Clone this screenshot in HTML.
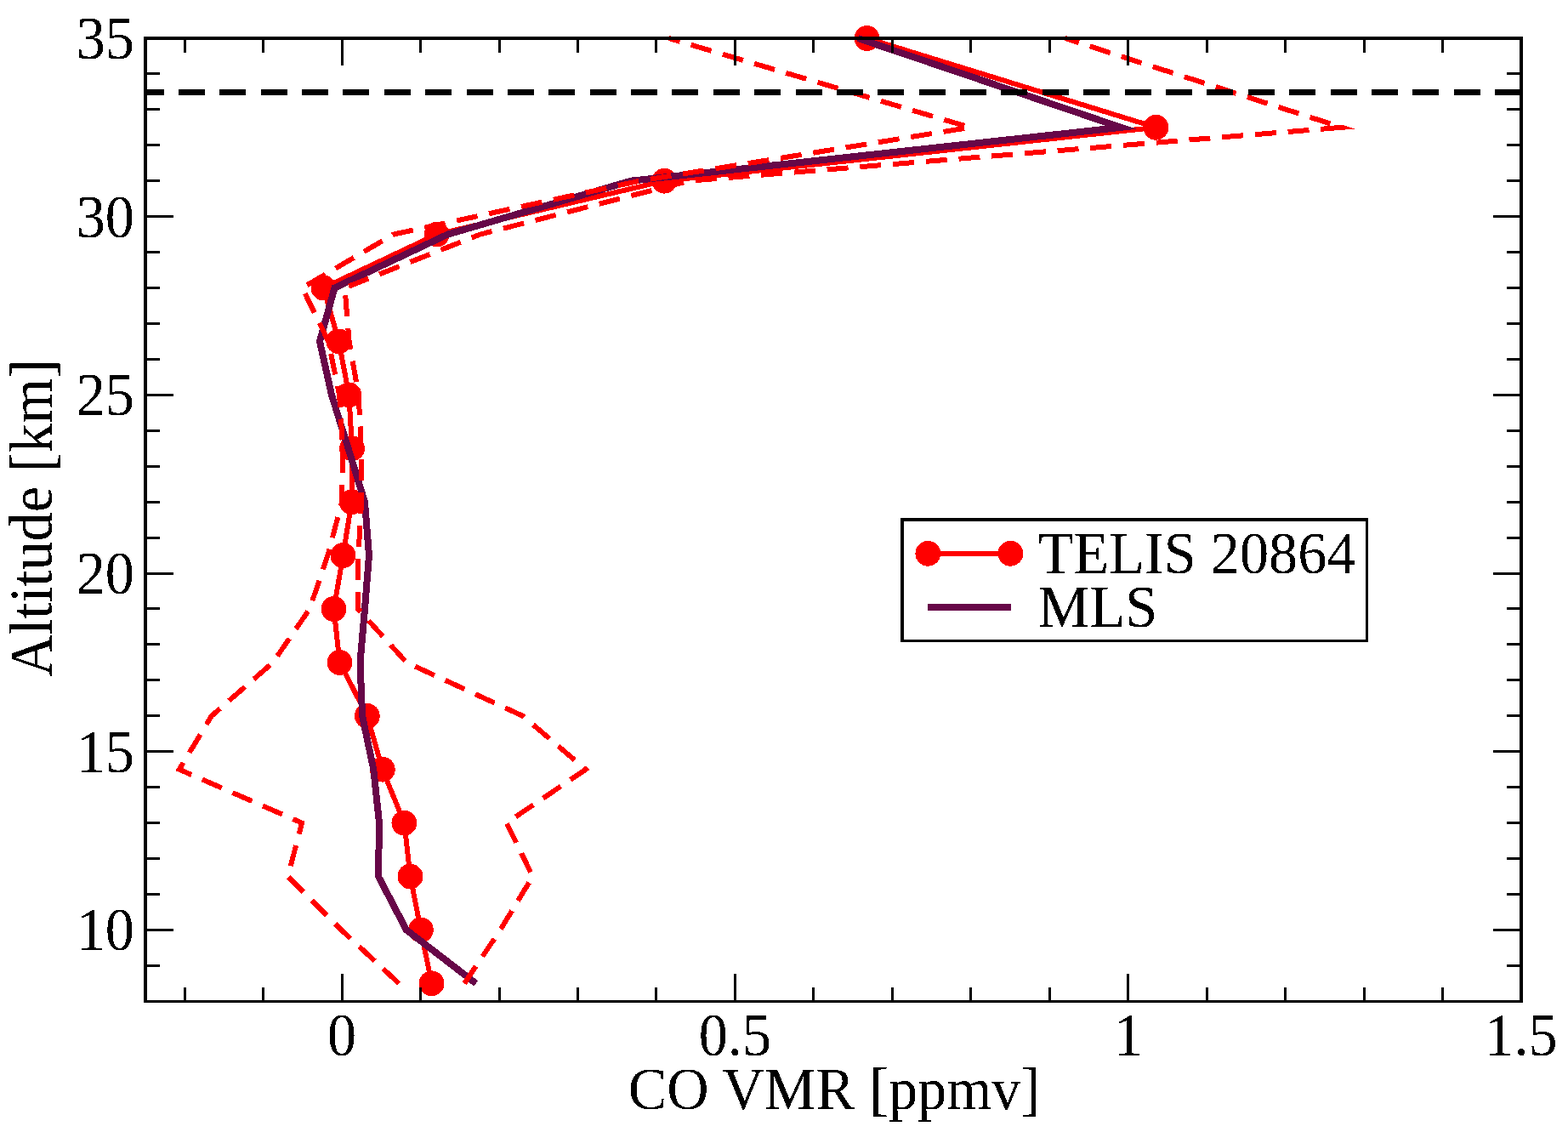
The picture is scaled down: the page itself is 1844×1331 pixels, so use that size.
<!DOCTYPE html>
<html><head><meta charset="utf-8"><style>
html,body{margin:0;padding:0;background:#fff;}
svg{display:block;}
text{font-family:"Liberation Serif","Times New Roman",serif;font-size:68.3px;fill:#000;}
</style></head><body>
<svg width="1844" height="1331" viewBox="0 0 1844 1331" shape-rendering="crispEdges">
<defs><filter id="bin" x="0" y="0" width="1844" height="1331" filterUnits="userSpaceOnUse" color-interpolation-filters="sRGB"><feComponentTransfer><feFuncA type="discrete" tableValues="0 1"/></feComponentTransfer></filter></defs>
<rect width="1844" height="1331" fill="#fff"/>
<g fill="none" stroke-linejoin="miter" stroke-miterlimit="10">
<polyline points="1019.5,45.0 1359.4,149.8 781.3,212.7 513.7,275.6 380.5,338.5 398.4,401.4 410.4,464.4 414.0,527.3 413.6,590.2 403.4,653.1 392.6,716.0 399.5,778.9 431.8,841.8 449.8,904.7 475.4,967.6 482.5,1030.5 494.9,1093.4 507.6,1156.3" stroke="#ff0000" stroke-width="6"/>
<g fill="#ff0000"><circle cx="1019.5" cy="45.0" r="14.9"/>
<circle cx="1359.4" cy="149.8" r="14.9"/>
<circle cx="781.3" cy="212.7" r="14.9"/>
<circle cx="513.7" cy="275.6" r="14.9"/>
<circle cx="380.5" cy="338.5" r="14.9"/>
<circle cx="398.4" cy="401.4" r="14.9"/>
<circle cx="410.4" cy="464.4" r="14.9"/>
<circle cx="414.0" cy="527.3" r="14.9"/>
<circle cx="413.6" cy="590.2" r="14.9"/>
<circle cx="403.4" cy="653.1" r="14.9"/>
<circle cx="392.6" cy="716.0" r="14.9"/>
<circle cx="399.5" cy="778.9" r="14.9"/>
<circle cx="431.8" cy="841.8" r="14.9"/>
<circle cx="449.8" cy="904.7" r="14.9"/>
<circle cx="475.4" cy="967.6" r="14.9"/>
<circle cx="482.5" cy="1030.5" r="14.9"/>
<circle cx="494.9" cy="1093.4" r="14.9"/>
<circle cx="507.6" cy="1156.3" r="14.9"/></g>
<polyline points="1009.0,45.0 1318.3,149.8 742.0,212.7 526.5,275.6 393.5,338.5 376.0,401.4 390.0,464.4 409.6,527.3 429.0,590.2 434.0,653.1 429.0,716.0 423.5,778.9 426.1,841.8 439.3,904.7 446.0,967.6 445.0,1030.5 477.9,1093.4 559.7,1156.3" stroke="#670748" stroke-width="8"/>
<polyline points="786.5,45.0 1140.9,149.8 752.3,212.7 462.7,275.6 355.5,338.5 386.2,401.4 399.1,464.4 403.2,527.3 402.1,590.2 385.4,653.1 364.1,716.0 321.0,778.9 248.8,841.8 210.8,904.7 355.1,967.6 338.5,1030.5 401.4,1093.4 469.1,1156.3" stroke="#ff0000" stroke-width="6" stroke-dasharray="25 13.795" stroke-dashoffset="11.5"/>
<polyline points="1252.5,45.0 1577.9,149.8 810.3,212.7 564.7,275.6 405.5,338.5 410.6,401.4 421.7,464.4 424.8,527.3 425.1,590.2 421.4,653.1 421.1,716.0 478.0,778.9 614.8,841.8 688.8,904.7 595.7,967.6 626.5,1030.5 588.4,1093.4 546.1,1156.3" stroke="#ff0000" stroke-width="6" stroke-dasharray="25 13.84" stroke-dashoffset="8.0"/>
<line x1="171" y1="108.5" x2="1789" y2="108.5" stroke="#000" stroke-width="7" stroke-dasharray="31 17.38" stroke-dashoffset="9.5"/>
</g>
<g stroke="#000" stroke-width="3">
<line x1="171" y1="1177.25" x2="188" y2="1177.25"/>
<line x1="1789" y1="1177.25" x2="1772" y2="1177.25"/>
<line x1="171" y1="1135.31" x2="188" y2="1135.31"/>
<line x1="1789" y1="1135.31" x2="1772" y2="1135.31"/>
<line x1="171" y1="1093.38" x2="204" y2="1093.38"/>
<line x1="1789" y1="1093.38" x2="1756" y2="1093.38"/>
<line x1="171" y1="1051.44" x2="188" y2="1051.44"/>
<line x1="1789" y1="1051.44" x2="1772" y2="1051.44"/>
<line x1="171" y1="1009.51" x2="188" y2="1009.51"/>
<line x1="1789" y1="1009.51" x2="1772" y2="1009.51"/>
<line x1="171" y1="967.57" x2="188" y2="967.57"/>
<line x1="1789" y1="967.57" x2="1772" y2="967.57"/>
<line x1="171" y1="925.63" x2="188" y2="925.63"/>
<line x1="1789" y1="925.63" x2="1772" y2="925.63"/>
<line x1="171" y1="883.70" x2="204" y2="883.70"/>
<line x1="1789" y1="883.70" x2="1756" y2="883.70"/>
<line x1="171" y1="841.77" x2="188" y2="841.77"/>
<line x1="1789" y1="841.77" x2="1772" y2="841.77"/>
<line x1="171" y1="799.83" x2="188" y2="799.83"/>
<line x1="1789" y1="799.83" x2="1772" y2="799.83"/>
<line x1="171" y1="757.89" x2="188" y2="757.89"/>
<line x1="1789" y1="757.89" x2="1772" y2="757.89"/>
<line x1="171" y1="715.96" x2="188" y2="715.96"/>
<line x1="1789" y1="715.96" x2="1772" y2="715.96"/>
<line x1="171" y1="674.03" x2="204" y2="674.03"/>
<line x1="1789" y1="674.03" x2="1756" y2="674.03"/>
<line x1="171" y1="632.09" x2="188" y2="632.09"/>
<line x1="1789" y1="632.09" x2="1772" y2="632.09"/>
<line x1="171" y1="590.15" x2="188" y2="590.15"/>
<line x1="1789" y1="590.15" x2="1772" y2="590.15"/>
<line x1="171" y1="548.22" x2="188" y2="548.22"/>
<line x1="1789" y1="548.22" x2="1772" y2="548.22"/>
<line x1="171" y1="506.29" x2="188" y2="506.29"/>
<line x1="1789" y1="506.29" x2="1772" y2="506.29"/>
<line x1="171" y1="464.35" x2="204" y2="464.35"/>
<line x1="1789" y1="464.35" x2="1756" y2="464.35"/>
<line x1="171" y1="422.42" x2="188" y2="422.42"/>
<line x1="1789" y1="422.42" x2="1772" y2="422.42"/>
<line x1="171" y1="380.48" x2="188" y2="380.48"/>
<line x1="1789" y1="380.48" x2="1772" y2="380.48"/>
<line x1="171" y1="338.55" x2="188" y2="338.55"/>
<line x1="1789" y1="338.55" x2="1772" y2="338.55"/>
<line x1="171" y1="296.61" x2="188" y2="296.61"/>
<line x1="1789" y1="296.61" x2="1772" y2="296.61"/>
<line x1="171" y1="254.68" x2="204" y2="254.68"/>
<line x1="1789" y1="254.68" x2="1756" y2="254.68"/>
<line x1="171" y1="212.74" x2="188" y2="212.74"/>
<line x1="1789" y1="212.74" x2="1772" y2="212.74"/>
<line x1="171" y1="170.81" x2="188" y2="170.81"/>
<line x1="1789" y1="170.81" x2="1772" y2="170.81"/>
<line x1="171" y1="128.87" x2="188" y2="128.87"/>
<line x1="1789" y1="128.87" x2="1772" y2="128.87"/>
<line x1="171" y1="86.94" x2="188" y2="86.94"/>
<line x1="1789" y1="86.94" x2="1772" y2="86.94"/>
<line x1="171" y1="45.00" x2="204" y2="45.00"/>
<line x1="1789" y1="45.00" x2="1756" y2="45.00"/>
<line x1="217.23" y1="45" x2="217.23" y2="61.5"/>
<line x1="217.23" y1="1177.3" x2="217.23" y2="1160.8"/>
<line x1="309.69" y1="45" x2="309.69" y2="61.5"/>
<line x1="309.69" y1="1177.3" x2="309.69" y2="1160.8"/>
<line x1="402.14" y1="45" x2="402.14" y2="77.4"/>
<line x1="402.14" y1="1177.3" x2="402.14" y2="1144.8999999999999"/>
<line x1="494.60" y1="45" x2="494.60" y2="61.5"/>
<line x1="494.60" y1="1177.3" x2="494.60" y2="1160.8"/>
<line x1="587.06" y1="45" x2="587.06" y2="61.5"/>
<line x1="587.06" y1="1177.3" x2="587.06" y2="1160.8"/>
<line x1="679.51" y1="45" x2="679.51" y2="61.5"/>
<line x1="679.51" y1="1177.3" x2="679.51" y2="1160.8"/>
<line x1="771.97" y1="45" x2="771.97" y2="61.5"/>
<line x1="771.97" y1="1177.3" x2="771.97" y2="1160.8"/>
<line x1="864.43" y1="45" x2="864.43" y2="77.4"/>
<line x1="864.43" y1="1177.3" x2="864.43" y2="1144.8999999999999"/>
<line x1="956.88" y1="45" x2="956.88" y2="61.5"/>
<line x1="956.88" y1="1177.3" x2="956.88" y2="1160.8"/>
<line x1="1049.34" y1="45" x2="1049.34" y2="61.5"/>
<line x1="1049.34" y1="1177.3" x2="1049.34" y2="1160.8"/>
<line x1="1141.80" y1="45" x2="1141.80" y2="61.5"/>
<line x1="1141.80" y1="1177.3" x2="1141.80" y2="1160.8"/>
<line x1="1234.26" y1="45" x2="1234.26" y2="61.5"/>
<line x1="1234.26" y1="1177.3" x2="1234.26" y2="1160.8"/>
<line x1="1326.71" y1="45" x2="1326.71" y2="77.4"/>
<line x1="1326.71" y1="1177.3" x2="1326.71" y2="1144.8999999999999"/>
<line x1="1419.17" y1="45" x2="1419.17" y2="61.5"/>
<line x1="1419.17" y1="1177.3" x2="1419.17" y2="1160.8"/>
<line x1="1511.63" y1="45" x2="1511.63" y2="61.5"/>
<line x1="1511.63" y1="1177.3" x2="1511.63" y2="1160.8"/>
<line x1="1604.08" y1="45" x2="1604.08" y2="61.5"/>
<line x1="1604.08" y1="1177.3" x2="1604.08" y2="1160.8"/>
<line x1="1696.54" y1="45" x2="1696.54" y2="61.5"/>
<line x1="1696.54" y1="1177.3" x2="1696.54" y2="1160.8"/>
<line x1="1789.00" y1="45" x2="1789.00" y2="77.4"/>
<line x1="1789.00" y1="1177.3" x2="1789.00" y2="1144.8999999999999"/>
</g>
<g fill="#000">
<rect x="169" y="43" width="1622" height="4"/>
<rect x="169" y="1176" width="1622" height="3"/>
<rect x="169" y="43" width="4" height="1136"/>
<rect x="1787" y="43" width="4" height="1136"/>
</g>
<g filter="url(#bin)">
<text transform="translate(158,69.0) scale(1,1.04)" text-anchor="end">35</text><text transform="translate(158,278.7) scale(1,1.04)" text-anchor="end">30</text><text transform="translate(158,488.4) scale(1,1.04)" text-anchor="end">25</text><text transform="translate(158,698.0) scale(1,1.04)" text-anchor="end">20</text><text transform="translate(158,907.7) scale(1,1.04)" text-anchor="end">15</text><text transform="translate(158,1117.4) scale(1,1.04)" text-anchor="end">10</text>
<text transform="translate(402.1,1240.8) scale(1,1.04)" text-anchor="middle">0</text><text transform="translate(864.4,1240.8) scale(1,1.04)" text-anchor="middle">0.5</text><text transform="translate(1326.7,1240.8) scale(1,1.04)" text-anchor="middle">1</text><text transform="translate(1789.0,1240.8) scale(1,1.04)" text-anchor="middle">1.5</text>
<text transform="translate(981,1304.3) scale(1,1.03)" text-anchor="middle">CO VMR [ppmv]</text>
<text transform="translate(61.2,609) rotate(-90) scale(1,1.04)" text-anchor="middle">Altitude [km]</text>
</g>
<rect x="1060.8" y="610.9" width="546.7" height="142.4" fill="#fff" stroke="#000" stroke-width="3.4"/>
<line x1="1091.3" y1="651" x2="1188.4" y2="651" stroke="#ff0000" stroke-width="6.3"/>
<circle cx="1091.3" cy="650.8" r="14.9" fill="#ff0000"/>
<circle cx="1188.4" cy="650.8" r="14.9" fill="#ff0000"/>
<line x1="1090.9" y1="713.9" x2="1189.1" y2="713.9" stroke="#670748" stroke-width="8.3"/>
<g filter="url(#bin)">
<text transform="translate(1220.8,674.2) scale(1,1.022)">TELIS 20864</text>
<text transform="translate(1220.8,737.1) scale(1,1.022)">MLS</text>
</g>
</svg>
</body></html>
